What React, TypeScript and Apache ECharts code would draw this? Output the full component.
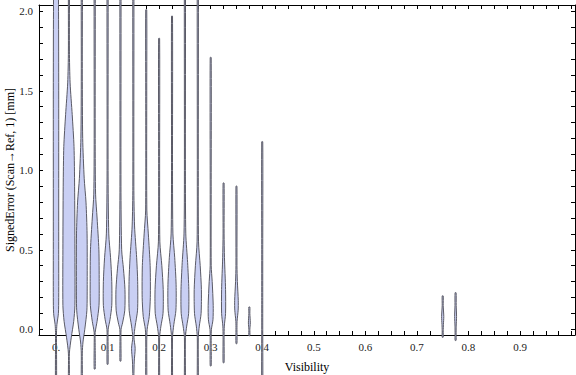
import React, { useEffect, useRef } from "react";
import * as echarts from "echarts";

// Violin centres (Visibility)
const visibility = [
  0, 0.025, 0.05, 0.075, 0.1, 0.125, 0.15, 0.175, 0.2, 0.225, 0.25, 0.275,
  0.3, 0.325, 0.35, 0.375, 0.4, 0.75, 0.775,
];

// Density profiles: [SignedError (mm), relative density], from top to bottom
const profile00 = [[2.4, 0.3], [2.0, 0.42], [1.5, 0.45], [1.0, 0.45], [0.5, 0.45], [0.2, 0.45], [0.1, 0.4], [0.03, 0.15], [-0.02, 0.03], [-0.1, 0.02], [-0.35, 0]];
const profile01 = [[2.4, 0.02], [1.75, 0.04], [1.55, 0.2], [1.35, 0.55], [1.15, 0.85], [0.9, 0.95], [0.5, 1.0], [0.15, 1.0], [0.05, 0.8], [-0.05, 0.4], [-0.15, 0.06], [-0.35, 0.02]];
const profile02 = [[2.4, 0.03], [1.6, 0.05], [1.2, 0.15], [0.95, 0.4], [0.8, 0.7], [0.6, 0.88], [0.3, 0.9], [0.12, 0.85], [0.0, 0.5], [-0.08, 0.2], [-0.15, 0.05], [-0.35, 0.02]];
const profile03 = [[2.4, 0.03], [1.2, 0.05], [0.85, 0.15], [0.7, 0.4], [0.5, 0.7], [0.3, 0.75], [0.15, 0.72], [0.05, 0.4], [-0.02, 0.08], [-0.1, 0.05], [-0.25, 0]];
const profile04 = [[2.4, 0.03], [1.0, 0.05], [0.6, 0.2], [0.45, 0.5], [0.3, 0.7], [0.15, 0.7], [0.06, 0.4], [0.0, 0.1], [-0.1, 0.05], [-0.22, 0]];
const profile05 = [[2.4, 0.03], [0.9, 0.05], [0.5, 0.2], [0.38, 0.5], [0.25, 0.75], [0.12, 0.72], [0.04, 0.35], [0.0, 0.1], [-0.1, 0.04], [-0.2, 0]];
const profile06 = [[2.4, 0.03], [0.9, 0.05], [0.65, 0.2], [0.45, 0.55], [0.3, 0.72], [0.12, 0.7], [0.02, 0.3], [-0.05, 0.1], [-0.12, 0.3], [-0.2, 0.15], [-0.3, 0.03], [-0.4, 0]];
const profile07 = [[2.01, 0], [1.5, 0.04], [0.75, 0.1], [0.6, 0.35], [0.4, 0.65], [0.2, 0.68], [0.08, 0.5], [0.0, 0.15], [-0.08, 0.05], [-0.4, 0]];
const profile08 = [[1.83, 0], [1.0, 0.04], [0.55, 0.12], [0.4, 0.45], [0.25, 0.68], [0.1, 0.65], [0.02, 0.3], [-0.05, 0.08], [-0.4, 0]];
const profile09 = [[1.97, 0], [1.0, 0.04], [0.6, 0.15], [0.45, 0.45], [0.28, 0.68], [0.12, 0.65], [0.03, 0.3], [-0.05, 0.08], [-0.4, 0]];
const profile10 = [[2.4, 0.03], [1.0, 0.04], [0.6, 0.15], [0.42, 0.45], [0.25, 0.65], [0.1, 0.62], [0.02, 0.3], [-0.05, 0.08], [-0.4, 0.02]];
const profile11 = [[2.4, 0.03], [1.0, 0.04], [0.55, 0.12], [0.4, 0.4], [0.25, 0.6], [0.1, 0.55], [0.02, 0.25], [-0.05, 0.06], [-0.4, 0.02]];
const profile12 = [[1.71, 0], [0.9, 0.03], [0.4, 0.08], [0.3, 0.25], [0.15, 0.42], [0.06, 0.38], [0.0, 0.12], [-0.05, 0.04], [-0.23, 0]];
const profile13 = [[0.92, 0], [0.6, 0.05], [0.45, 0.15], [0.25, 0.33], [0.1, 0.33], [0.02, 0.12], [-0.05, 0.04], [-0.21, 0]];
const profile14 = [[0.9, 0], [0.4, 0.05], [0.3, 0.15], [0.18, 0.3], [0.12, 0.28], [0.05, 0.1], [0.0, 0.04], [-0.09, 0]];
const profile15 = [[0.14, 0], [0.1, 0.08], [0.04, 0.16], [0.0, 0.08], [-0.04, 0]];
const profile16 = [[1.18, 0], [0.5, 0.04], [0.2, 0.06], [0.0, 0.05], [-0.4, 0]];
const profile17 = [[0.21, 0], [0.15, 0.08], [0.08, 0.18], [0.03, 0.12], [-0.01, 0.05], [-0.05, 0]];
const profile18 = [[0.23, 0], [0.15, 0.1], [0.08, 0.16], [0.02, 0.1], [-0.03, 0.04], [-0.07, 0]];

const profiles = [
  profile00, profile01, profile02, profile03, profile04, profile05, profile06,
  profile07, profile08, profile09, profile10, profile11, profile12, profile13,
  profile14, profile15, profile16, profile17, profile18,
];

const xLabelValues = [0, 0.1, 0.2, 0.3, 0.4, 0.5, 0.6, 0.7, 0.8, 0.9];
const xTickValues = [
  0, 0.025, 0.05, 0.075, 0.1, 0.125, 0.15, 0.175, 0.2, 0.225, 0.25, 0.275,
  0.3, 0.325, 0.35, 0.375, 0.4, 0.425, 0.45, 0.475, 0.5, 0.525, 0.55, 0.575,
  0.6, 0.625, 0.65, 0.675, 0.7, 0.725, 0.75, 0.775, 0.8, 0.825, 0.85, 0.875,
  0.9, 0.925, 0.95, 0.975, 1.0,
];
const yLabelValues = [0, 0.5, 1.0, 1.5, 2.0];
const yTickValues = [
  0, 0.1, 0.2, 0.3, 0.4, 0.5, 0.6, 0.7, 0.8, 0.9, 1.0, 1.1, 1.2, 1.3, 1.4,
  1.5, 1.6, 1.7, 1.8, 1.9, 2.0,
];

const MAX_HALF_PX = 6;
const MIN_HALF_PX = 0.5;
const FILL = "#c9cff3";
const STROKE = "#5a5a66";
const FONT = "'Liberation Serif', 'DejaVu Serif', serif";

export default function App() {
  const ref = useRef<HTMLDivElement>(null);

  useEffect(() => {
    if (!ref.current) return;
    const chart = echarts.init(ref.current, undefined, { renderer: "svg" });

    const axisCommon = {
      type: "value",
      axisLine: { show: true, onZero: false, lineStyle: { color: "#000", width: 1 } },
      splitLine: { show: false },
    };

    const option: any = {
      animation: false,
      backgroundColor: "#fff",
      grid: { left: 39, top: 5, width: 536, height: 330, containLabel: false, outerBoundsMode: "none" },
      xAxis: [
        {
          ...axisCommon,
          position: "bottom",
          min: -0.033,
          max: 1.0066,
          name: "Visibility",
          nameLocation: "middle",
          nameGap: 26,
          nameMoveOverlap: false,
          nameTextStyle: { fontFamily: FONT, fontSize: 12, color: "#000" },
          axisTick: { show: true, inside: true, length: 4, customValues: xTickValues, lineStyle: { color: "#000" } },
          axisLabel: {
            customValues: xLabelValues,
            margin: 6,
            fontFamily: FONT,
            fontSize: 11,
            color: "#222",
            formatter: (v: number) => (v === 0 ? "0." : v.toFixed(1)),
          },
        },
        {
          ...axisCommon,
          position: "top",
          min: -0.033,
          max: 1.0066,
          axisTick: { show: true, inside: true, length: 4, customValues: xTickValues, lineStyle: { color: "#000" } },
          axisLabel: { show: false },
        },
      ],
      yAxis: [
        {
          ...axisCommon,
          position: "left",
          min: -0.036,
          max: 2.04,
          name: "SignedError (Scan\u2192Ref, 1) [mm]",
          nameLocation: "middle",
          nameGap: 23,
          nameMoveOverlap: false,
          nameTextStyle: { fontFamily: FONT, fontSize: 12, color: "#000" },
          axisTick: { show: true, inside: true, length: 4, customValues: yTickValues, lineStyle: { color: "#000" } },
          axisLabel: {
            customValues: yLabelValues,
            margin: 6,
            fontFamily: FONT,
            fontSize: 11,
            color: "#222",
            formatter: (v: number) => v.toFixed(1),
          },
        },
        {
          ...axisCommon,
          position: "right",
          min: -0.036,
          max: 2.04,
          axisTick: { show: true, inside: true, length: 4, customValues: yTickValues, lineStyle: { color: "#000" } },
          axisLabel: { show: false },
        },
      ],
      series: [
        {
          type: "custom",
          clip: false,
          xAxisIndex: 0,
          yAxisIndex: 0,
          z: 5,
          data: visibility.map((v, i) => [v, 0, i]),
          encode: { x: 0, y: 1 },
          renderItem: (params: any, api: any) => {
            const i = params.dataIndex;
            const prof = profiles[i];
            const xv = visibility[i];
            const left: number[][] = [];
            const right: number[][] = [];
            for (const [y, d] of prof) {
              const p = api.coord([xv, y]);
              const w = Math.max(d * MAX_HALF_PX, MIN_HALF_PX);
              left.push([p[0] - w, p[1]]);
              right.push([p[0] + w, p[1]]);
            }
            const pts = left.concat(right.reverse());
            return {
              type: "polygon",
              shape: { points: pts, smooth: 0.25 },
              style: { fill: FILL, stroke: STROKE, lineWidth: 1 },
            };
          },
        },
      ],
    };

    chart.setOption(option);
    return () => chart.dispose();
  }, []);

  return (
    <div
      ref={ref}
      style={{ position: "fixed", left: 0, top: 0, width: 576, height: 375, background: "#fff" }}
    />
  );
}
